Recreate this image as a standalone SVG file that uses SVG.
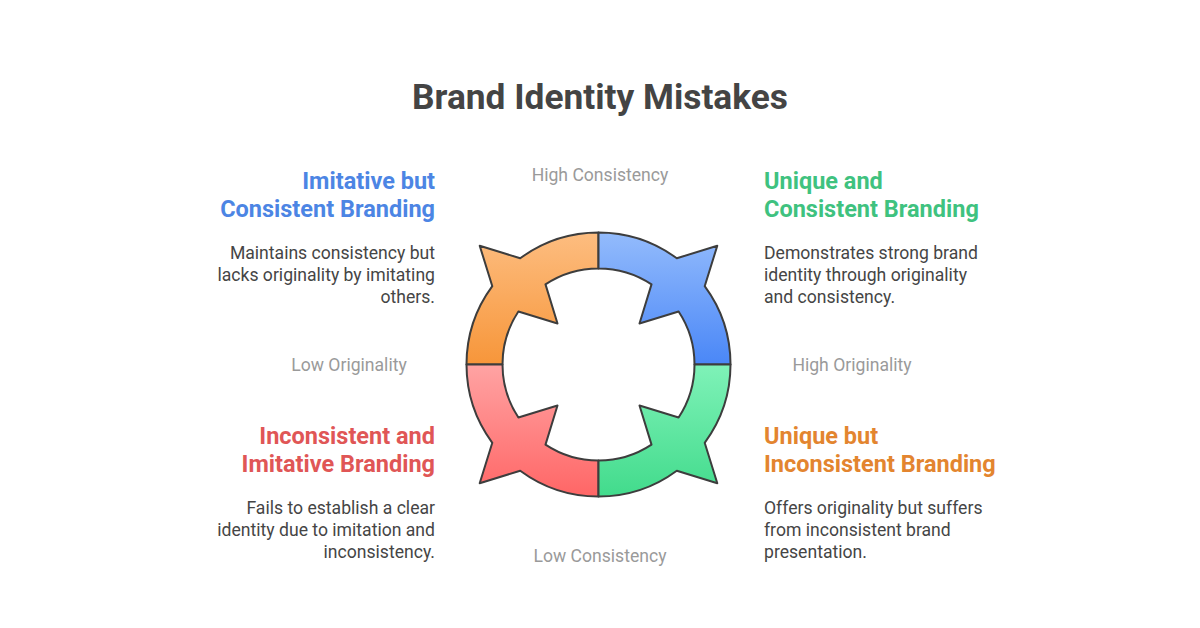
<svg xmlns="http://www.w3.org/2000/svg" width="1200" height="628" viewBox="0 0 1200 628">
<style>
text{font-family:Roboto,"Liberation Sans",Arial,sans-serif}
.title{font-size:35.3px;font-weight:700;fill:#444444}
.head{font-size:23.5px;font-weight:700}
.body{font-size:17.6px;fill:#454545}
.axis{font-size:17.6px;fill:#9a9a9a}
.r{text-anchor:end}
.c{text-anchor:middle}
.seg{stroke:#3d3d3d;stroke-width:2;stroke-linejoin:round}
</style>
<defs>
<linearGradient id="gOrange" x1="0" y1="0" x2="0" y2="1"><stop offset="0" stop-color="#fdbd80"/><stop offset="1" stop-color="#f7963a"/></linearGradient>
<linearGradient id="gBlue" x1="0" y1="0" x2="0" y2="1"><stop offset="0" stop-color="#93bbfc"/><stop offset="1" stop-color="#4a87f7"/></linearGradient>
<linearGradient id="gRed" x1="0" y1="0" x2="0" y2="1"><stop offset="0" stop-color="#ffa3a3"/><stop offset="1" stop-color="#ff6666"/></linearGradient>
<linearGradient id="gGreen" x1="0" y1="0" x2="0" y2="1"><stop offset="0" stop-color="#7ff2b8"/><stop offset="1" stop-color="#42db8c"/></linearGradient>
</defs>
<rect width="1200" height="628" fill="#ffffff"/>
<text class="title c" x="600" y="109">Brand Identity Mistakes</text>

<g id="cycle">
<g id="seg-top-left">
<path class="seg" fill="url(#gOrange)" d="M598.5,232.5 A132,132 0 0 0 520.2,258.3 L479.7,245.7 L492.3,286.2 A132,132 0 0 0 466.5,364.5 L502.5,364.5 A96,96 0 0 1 518.4,311.5 L557.5,323.5 L545.5,284.4 A96,96 0 0 1 598.5,268.5 Z"/>
</g>
<g id="seg-top-right">
<path class="seg" fill="url(#gBlue)" d="M598.5,232.5 A132,132 0 0 1 676.8,258.3 L717.3,245.7 L704.7,286.2 A132,132 0 0 1 730.5,364.5 L694.5,364.5 A96,96 0 0 0 678.6,311.5 L639.5,323.5 L651.5,284.4 A96,96 0 0 0 598.5,268.5 Z"/>
</g>
<g id="seg-bottom-left">
<path class="seg" fill="url(#gRed)" d="M598.5,496.5 A132,132 0 0 1 520.2,470.7 L479.7,483.3 L492.3,442.8 A132,132 0 0 1 466.5,364.5 L502.5,364.5 A96,96 0 0 0 518.4,417.5 L557.5,405.5 L545.5,444.6 A96,96 0 0 0 598.5,460.5 Z"/>
</g>
<g id="seg-bottom-right">
<path class="seg" fill="url(#gGreen)" d="M598.5,496.5 A132,132 0 0 0 676.8,470.7 L717.3,483.3 L704.7,442.8 A132,132 0 0 0 730.5,364.5 L694.5,364.5 A96,96 0 0 1 678.6,417.5 L639.5,405.5 L651.5,444.6 A96,96 0 0 1 598.5,460.5 Z"/>
</g>
</g>

<g id="axis-labels">
<text class="axis c" x="600" y="181">High Consistency</text>
<text class="axis c" x="600" y="562">Low Consistency</text>
<text class="axis c" x="349" y="371">Low Originality</text>
<text class="axis c" x="852" y="371">High Originality</text>
</g>

<g id="imitative-consistent">
<text class="head r" x="435" y="189" fill="#4c85e4">Imitative but</text>
<text class="head r" x="435" y="217" fill="#4c85e4">Consistent Branding</text>
<text class="body r" x="435" y="259">Maintains consistency but</text>
<text class="body r" x="435" y="281">lacks originality by imitating</text>
<text class="body r" x="435" y="303">others.</text>
</g>

<g id="unique-consistent">
<text class="head" x="764" y="189" fill="#3fc27f">Unique and</text>
<text class="head" x="764" y="217" fill="#3fc27f">Consistent Branding</text>
<text class="body" x="764" y="259">Demonstrates strong brand</text>
<text class="body" x="764" y="281">identity through originality</text>
<text class="body" x="764" y="303">and consistency.</text>
</g>

<g id="inconsistent-imitative">
<text class="head r" x="435" y="444" fill="#e05656">Inconsistent and</text>
<text class="head r" x="435" y="472" fill="#e05656">Imitative Branding</text>
<text class="body r" x="435" y="514">Fails to establish a clear</text>
<text class="body r" x="435" y="536">identity due to imitation and</text>
<text class="body r" x="435" y="558">inconsistency.</text>
</g>

<g id="unique-inconsistent">
<text class="head" x="764" y="444" fill="#e3852f">Unique but</text>
<text class="head" x="764" y="472" fill="#e3852f">Inconsistent Branding</text>
<text class="body" x="764" y="514">Offers originality but suffers</text>
<text class="body" x="764" y="536">from inconsistent brand</text>
<text class="body" x="764" y="558">presentation.</text>
</g>
</svg>
